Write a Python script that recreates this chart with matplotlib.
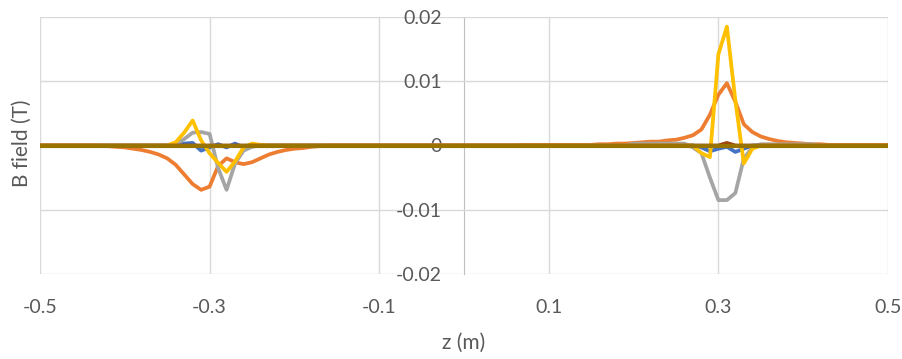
import numpy as np
import matplotlib.pyplot as plt

# z positions (m), 0.01 m steps
z = np.linspace(-0.5, 0.5, 101)

# field components (T), rows of 10 points
b_blue = [0, 0, 0, 0, 0, 0, 0, 0, 0, 0,
          0, 0, 0, 0, 0, 0, 0, 0.0003, 0.0004, -0.0008,
          -0.0003, 0.0002, -0.0003, 0.0003, -0.0003, 0, 0, 0, 0, 0,
          0, 0, 0, 0, 0, 0, 0, 0, 0, 0,
          0, 0, 0, 0, 0, 0, 0, 0, 0, 0,
          0, 0, 0, 0, 0, 0, 0, 0, 0, 0,
          0, 0, 0, 0, 0, 0, 0, 0, 0, 0,
          0, 0, 0, 0, 0, 0, 0, 0, -0.0003, -0.0009,
          -0.0005, -0.0002, -0.001, -0.0005, 0, 0, 0, 0, 0, 0,
          0, 0, 0, 0, 0, 0, 0, 0, 0, 0,
          0]
b_orange = [0, 0, 0, 0, 0, 0, 0, 0, -0.0001, -0.0002,
            -0.0003, -0.0005, -0.0007, -0.001, -0.0014, -0.002, -0.003, -0.0045, -0.006, -0.0069,
            -0.0064, -0.0032, -0.002, -0.0026, -0.0029, -0.0026, -0.002, -0.0014, -0.001, -0.0007,
            -0.0005, -0.0004, -0.0002, -0.0001, 0, 0, 0, 0, 0, 0,
            0, 0, 0, 0, 0, 0, 0, 0, 0, 0,
            0, 0, 0, 0, 0, 0, 0, 0.0001, 0.0001, 0.0001,
            0.0001, 0.0001, 0.0001, 0.0001, 0.0001, 0.0001, 0.0002, 0.0002, 0.0003, 0.0003,
            0.0004, 0.0005, 0.0006, 0.0006, 0.0008, 0.0009, 0.0012, 0.0016, 0.0025, 0.0048,
            0.0079, 0.0097, 0.0068, 0.0033, 0.0021, 0.0014, 0.001, 0.0007, 0.0005, 0.0004,
            0.0003, 0.0002, 0.0002, 0.0001, 0.0001, 0.0001, 0.0001, 0.0001, 0.0001, 0.0001,
            0.0001]
b_gray = [0, 0, 0, 0, 0, 0, 0, 0, 0, 0,
          0, 0, 0, 0, 0, 0, 0.0002, 0.001, 0.002, 0.0021,
          0.0018, -0.0035, -0.0069, -0.0028, -0.0008, -0.0002, 0, 0, 0, 0,
          0, 0, 0, 0, 0, 0, 0, 0, 0, 0,
          0, 0, 0, 0, 0, 0, 0, 0, 0, 0,
          0, 0, 0, 0, 0, 0, 0, 0, 0, 0,
          0, 0, 0, 0, 0, 0, 0, 0, 0, 0,
          0.0003, 0.0003, 0.0003, 0.0003, 0.0003, 0.0003, 0.0003, -0.0003, -0.0012, -0.005,
          -0.0085, -0.0085, -0.0074, -0.002, -0.0003, 0.0002, 0.0002, 0.0002, 0.0002, 0.0002,
          0.0002, 0.0002, 0, 0, 0, 0, 0, 0, 0, 0,
          0]
b_yellow = [0, 0, 0, 0, 0, 0, 0, 0, 0, 0,
            0, 0, 0, 0, 0, 0, 0.0005, 0.002, 0.0039, 0.0008,
            -0.0012, -0.0027, -0.0041, -0.0025, -0.0003, 0.0003, 0.0001, 0, 0, 0,
            0, 0, 0, 0, 0, 0, 0, 0, 0, 0,
            0, 0, 0, 0, 0, 0, 0, 0, 0, 0,
            0, 0, 0, 0, 0, 0, 0, 0, 0, 0,
            0, 0, 0, 0, 0, 0, 0, 0, 0, 0,
            0, 0, 0, 0, 0, 0, 0, 0, -0.0012, -0.0018,
            0.0142, 0.0185, 0.007, -0.0028, -0.0005, 0, 0, 0, 0, 0,
            0, 0, 0, 0, 0, 0, 0, 0, 0, 0,
            0]
b_darkorange = [0] * 81 + [0.0004] + [0] * 19
b_gold = [0] * 101

series = [
    (b_blue, '#4472C4', 2.7),
    (b_orange, '#ED7D31', 2.7),
    (b_gray, '#A5A5A5', 2.7),
    (b_yellow, '#FFC000', 2.7),
    (b_darkorange, '#9E480E', 2.7),
    (b_gold, '#997300', 3.0),
]

plt.rcParams['font.family'] = ['Lato', 'DejaVu Sans']
fig = plt.figure(figsize=(9.02, 3.59), dpi=100)
ax = fig.add_axes([40 / 902, 85 / 359, 848 / 902, 257 / 359])

for vals, col, w in series:
    ax.plot(z, vals, color=col, lw=w, solid_joinstyle='round')

ax.set_xlim(-0.5, 0.5)
ax.set_ylim(-0.02, 0.02)
ax.set_xticks([-0.5, -0.3, -0.1, 0.1, 0.3, 0.5])
ax.set_xticklabels(['-0.5', '-0.3', '-0.1', '0.1', '0.3', '0.5'])
ax.set_yticks([-0.02, -0.01, 0, 0.01, 0.02])
ax.set_yticklabels(['-0.02', '-0.01', '0', '0.01', '0.02'])
ax.grid(True, color='#D9D9D9', lw=1)
ax.set_axisbelow(True)

for s in ['top', 'right', 'bottom']:
    ax.spines[s].set_visible(False)
ax.spines['left'].set_position(('data', 0))
ax.spines['left'].set_color('#BFBFBF')
ax.spines['left'].set_zorder(0.5)

ax.tick_params(axis='y', length=0, pad=16, labelsize=14, labelcolor='#595959')
ax.tick_params(axis='x', length=0, pad=18, labelsize=14, labelcolor='#595959')

ax.set_xlabel('z (m)', fontsize=15, color='#595959', labelpad=12)
fig.text(22 / 902, 0.6, 'B field (T)', rotation=90, fontsize=15, color='#595959',
         ha='center', va='center')

fig.savefig('out.png', dpi=100)
